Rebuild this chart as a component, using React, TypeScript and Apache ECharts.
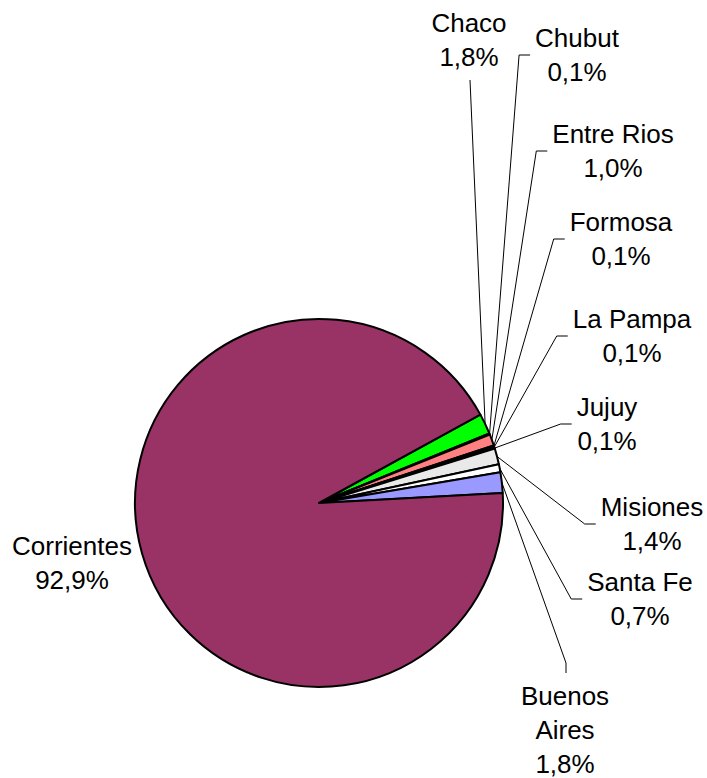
import React, { useEffect, useRef } from "react";
import * as echarts from "echarts";

// ---- data ----
const provinces = [
  "Chaco",
  "Chubut",
  "Entre Rios",
  "Formosa",
  "La Pampa",
  "Jujuy",
  "Misiones",
  "Santa Fe",
  "Buenos Aires",
  "Corrientes",
];
const shares = [1.8, 0.1, 1.0, 0.1, 0.1, 0.1, 1.4, 0.7, 1.8, 92.9];

// ---- styles / layout ----
const sliceColors = [
  "#00ff00",
  "#ffffcc",
  "#ff8080",
  "#ccffff",
  "#660066",
  "#0066cc",
  "#e9e9e9",
  "#ffffff",
  "#9999ff",
  "#993366",
];
const labelCenters: number[][] = [
  [469, 40],
  [577, 55],
  [613, 151],
  [621, 239],
  [632, 336],
  [607, 424],
  [652, 524],
  [640, 599],
  [565, 730],
  [72, 563],
];
const attach = ["bottom", "left", "left", "left", "left", "left", "left", "left", "top", "none"];

const CX = 319;
const CY = 503;
const R = 184;
const START = 28.7;

function anchorOf(i: number): number[] {
  const total = shares.reduce((a, b) => a + b, 0);
  let cum = 0;
  for (let k = 0; k < i; k++) cum += shares[k];
  const mid = START - ((cum + shares[i] / 2) / total) * 360;
  const rad = (mid * Math.PI) / 180;
  return [CX + R * Math.cos(rad), CY - R * Math.sin(rad)];
}

function fmt(v: number) {
  return v.toFixed(1).replace(".", ",") + "%";
}

export default function App() {
  const ref = useRef<HTMLDivElement>(null);
  useEffect(() => {
    document.body.style.margin = "0";
    if (!ref.current) return;
    const chart = echarts.init(ref.current, undefined, { renderer: "svg" });
    chart.setOption({
      animation: false,
      backgroundColor: "#ffffff",
      series: [
        {
          type: "pie",
          center: [CX, CY],
          radius: R,
          startAngle: START,
          clockwise: true,
          avoidLabelOverlap: false,
          silent: true,
          itemStyle: { borderColor: "#000000", borderWidth: 2 },
          label: {
            show: true,
            position: "outside",
            fontFamily: "Liberation Sans, Arial, sans-serif",
            fontSize: 26,
            lineHeight: 34,
            color: "#000000",
            align: "center",
            formatter: (p: any) => {
              const nm = p.name === "Buenos Aires" ? "Buenos\nAires" : p.name;
              return nm + "\n" + fmt(p.value);
            },
          },
          labelLine: { show: true, lineStyle: { color: "#000000", width: 1 } },
          labelLayout: (p: any) => {
            const i = p.dataIndex;
            const [x, y] = labelCenters[i];
            const w = p.labelRect.width;
            const h = p.labelRect.height;
            const s = anchorOf(i);
            let pts: number[][] | undefined;
            const a = attach[i];
            if (a === "left") {
              const ex = x - w / 2 - 5;
              pts = [s, [ex - 11, y], [ex, y]];
            } else if (a === "bottom") {
              const ey = y + h / 2 + 6;
              pts = [s, [x + 1, ey], [x + 1, ey]];
            } else if (a === "top") {
              const ey = y - h / 2 - 6;
              pts = [s, [x + 1, ey - 10], [x + 1, ey]];
            }
            const out: any = { x, y, align: "center", verticalAlign: "middle" };
            if (pts) out.labelLinePoints = pts;
            return out;
          },
          data: provinces.map((name, i) => ({
            name,
            value: shares[i],
            itemStyle: { color: sliceColors[i] },
            labelLine: { show: attach[i] !== "none" },
          })),
        },
      ],
    });
    return () => chart.dispose();
  }, []);
  return <div ref={ref} style={{ width: 707, height: 778 }} />;
}
